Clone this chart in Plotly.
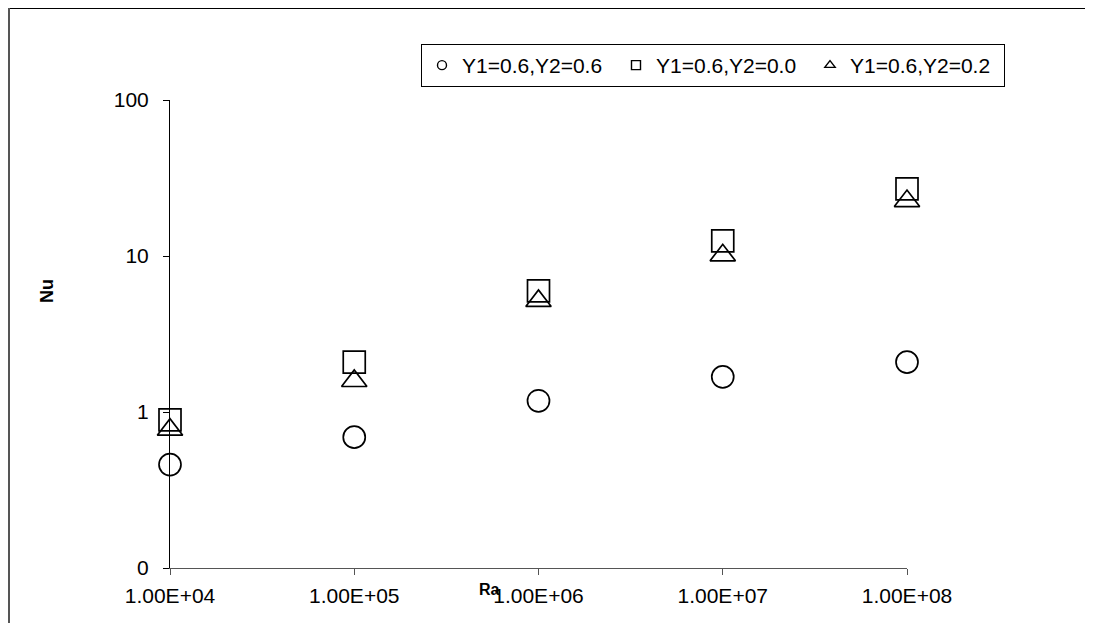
import plotly.graph_objects as go

ra = [1e4, 1e5, 1e6, 1e7, 1e8]
nu_y06 = [0.46, 0.69, 1.18, 1.68, 2.09]
nu_y00 = [0.89, 2.09, 5.97, 12.5, 26.9]
nu_y02 = [0.77, 1.58, 5.15, 10.1, 22.5]
names = ["Y1=0.6,Y2=0.6", "Y1=0.6,Y2=0.0", "Y1=0.6,Y2=0.2"]
symbols = ["circle-open", "square-open", "triangle-up-open"]
x_tickvals = [1e4, 1e5, 1e6, 1e7, 1e8]
x_ticktext = ["1.00E+04", "1.00E+05", "1.00E+06", "1.00E+07", "1.00E+08"]
y_tickvals = [0.1, 1, 10, 100]
y_ticktext = ["0", "1", "10", "100"]

# page offset (body margin) of the figure div
OFF = 8
W, H = 1093 - OFF, 623 - OFF
L, T, PW, PH = 170 - OFF, 100 - OFF, 737, 468


def px(x):  # page x pixel -> paper x
    return (x - OFF - L) / PW


def py(y):  # page y pixel -> paper y
    return (T + PH - (y - OFF)) / PH


fig = go.Figure()
for name, sym, vals in zip(names, symbols, [nu_y06, nu_y00, nu_y02]):
    fig.add_trace(go.Scatter(
        x=ra, y=vals, mode="markers", name=name, showlegend=False, cliponaxis=False,
        marker=dict(symbol=sym, size=22, color="black", line=dict(color="black", width=1.7)),
    ))
    # legend proxy with small marker
    fig.add_trace(go.Scatter(
        x=[None], y=[None], mode="markers", name=name,
        marker=dict(symbol=sym, size=9, color="black", line=dict(color="black", width=1.4)),
    ))

font_family = "Arial, Liberation Sans, sans-serif"
fig.update_layout(
    width=W, height=H,
    margin=dict(l=L, r=W - L - PW, t=T, b=H - T - PH, pad=0),
    paper_bgcolor="white", plot_bgcolor="white",
    font=dict(family=font_family, size=21, color="black"),
    showlegend=True,
    legend=dict(
        orientation="h", x=px(421), y=py(44),
        xref="paper", yref="paper",
        xanchor="left", yanchor="top",
        bordercolor="black", borderwidth=1, bgcolor="white",
        font=dict(size=21, family=font_family, color="black"),
        itemwidth=30, entrywidth=149,
    ),
    xaxis=dict(
        type="log", range=[4, 8], tickvals=x_tickvals, ticktext=x_ticktext,
        showgrid=False, zeroline=False, showline=True, linecolor="#555", linewidth=1,
        ticks="outside", ticklen=6, tickcolor="#555", tickfont=dict(size=21),
        ticklabelstandoff=3,
    ),
    yaxis=dict(
        type="log", range=[-1, 2], tickvals=y_tickvals, ticktext=y_ticktext,
        showgrid=False, zeroline=False, showline=True, linecolor="black", linewidth=1,
        ticks="outside", ticklen=6, tickcolor="black", tickfont=dict(size=21),
        ticklabelstandoff=10,
    ),
    annotations=[
        dict(text="<b>Nu</b>", textangle=-90, xref="paper", yref="paper",
             x=px(47), y=py(291), xanchor="center", yanchor="middle", showarrow=False,
             font=dict(size=18, family=font_family)),
        dict(text="<b>Ra</b>", xref="paper", yref="paper",
             x=px(489), y=py(589), xanchor="center", yanchor="middle", showarrow=False,
             font=dict(size=16, family=font_family)),
    ],
    shapes=[
        dict(type="line", xref="paper", yref="paper",
             x0=px(8), x1=px(1093),
             y0=py(8.5), y1=py(8.5),
             line=dict(color="black", width=1)),
        dict(type="line", xref="paper", yref="paper",
             x0=px(9), x1=px(9),
             y0=py(8), y1=py(640),
             line=dict(color="#555", width=2)),
    ],
)

fig.write_html("out.html")
